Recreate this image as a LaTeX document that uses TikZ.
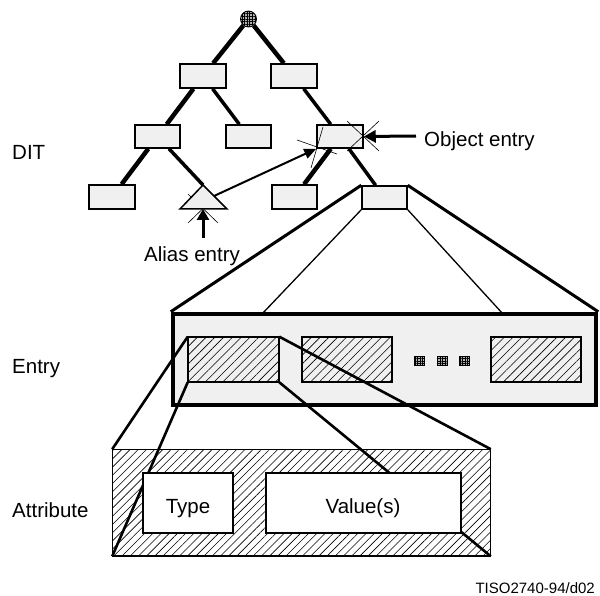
\documentclass[tikz,border=0pt]{standalone}
\usepackage{fontspec}
\setmainfont{Liberation Sans}
\usetikzlibrary{arrows.meta,patterns.meta,backgrounds}
\definecolor{boxgray}{RGB}{240,240,240}
\begin{document}
\begin{tikzpicture}[x=1pt,y=-1pt,
  treebox/.style={draw, line width=1.5pt, fill=boxgray, minimum width=46pt, minimum height=24pt, inner sep=0pt},
  hatchbox/.style={draw, line width=1.5pt, preaction={fill=boxgray}, pattern={Lines[angle=45,distance=6.2pt,line width=0.6pt]}, inner sep=0pt, minimum height=45pt},
  whitebox/.style={draw, line width=1.5pt, fill=white, inner sep=0pt, minimum height=60pt},
  txt/.style={inner sep=0pt, font=\fontsize{20.5}{24}\selectfont},
  thickedge/.style={line width=4.5pt},
  medge/.style={line width=3.5pt},
  dotsq/.style={draw, line width=0.8pt, fill=gray!60, postaction={pattern={Hatch[angle=0,distance=2.5pt,line width=0.4pt]}}, minimum width=10pt, minimum height=9pt, inner sep=0pt},
  xmark/.style={line width=0.6pt},
  frustum/.style={line width=2.6pt},
  arrowline/.style={line width=3pt, -{Triangle[length=12pt,width=12pt]}}
]
\useasboundingbox (0,0) rectangle (600,596);

% ---- DIT tree ----
\node[circle, draw, line width=0.8pt, fill=gray!60, postaction={pattern={Hatch[angle=0,distance=2.6pt,line width=0.4pt]}}, minimum size=16pt, inner sep=0pt] (root) at (248.5,19) {};
\node[treebox] (b1L) at (203,76) {};
\node[treebox] (b1R) at (294,76) {};
\node[treebox, minimum width=45pt, minimum height=23pt] (b2L) at (157.5,136.5) {};
\node[treebox, minimum width=45pt, minimum height=23pt] (b2M) at (248.5,136.5) {};
\node[treebox, minimum width=46pt, minimum height=23pt] (b2R) at (340,136.5) {};
\node[treebox] (b3L) at (112,197) {};
\node[treebox, minimum width=45pt] (b3M) at (294.5,197) {};
\node[treebox, minimum width=45pt, minimum height=23pt] (b3R) at (384.5,197.5) {};
\coordinate (triTop) at (203,185);
\coordinate (triL) at (180,209);
\coordinate (triR) at (227,209);
\coordinate (triBot) at (203,209);
\coordinate (triSide) at (214,196);
\draw[line width=1.5pt, fill=boxgray, line join=miter] (triTop) -- (triR) -- (triL) -- cycle;

\begin{pgfonlayer}{background}
  \draw[thickedge] (root) -- (b1L);
  \draw[thickedge] (root) -- (b1R);
  \draw[thickedge] (b1L) -- (b2L);
  \draw[medge] (b1L) -- (b2M);
  \draw[medge] (b1R) -- (b2R);
  \draw[thickedge] (b2L) -- (b3L);
  \draw[medge] (b2L) -- (triTop);
  \draw[thickedge] (b2R) -- (b3M);
  \draw[medge] (b2R) -- (b3R);
  \draw[xmark] (218,223) -- (188,194);
  \draw[xmark] (188,223) -- (218,194);
\end{pgfonlayer}

% ---- labels and arrows in the tree ----
\node[txt, anchor=base west] (dit) at (12,160) {DIT};
\node[txt, anchor=base west] (objlbl) at (424,147) {Object entry};
\node[txt, anchor=base west] (aliaslbl) at (144,261.5) {Alias entry};
\coordinate (objStart) at (416,136);
\coordinate (aliasStart) at (203,238);
\draw[arrowline] (objStart) -- (b2R.east);
\draw[line width=2pt, -{Triangle[length=12pt,width=10pt]}] (triSide) -- (b2R.south west);
\draw[line width=3pt, -{Triangle[length=11pt,width=12pt]}] (aliasStart) -- (triBot);
\draw[xmark] (347,121) -- (379,151);
\draw[xmark] (379,121) -- (347,151);
\draw[xmark] (297,140) -- (337,154);
\draw[xmark] (323,127) -- (311,168);

% ---- Entry ----
\node[draw, line width=4.5pt, fill=boxgray, minimum width=423pt, minimum height=91pt, inner sep=0pt] (entrybox) at (384.5,359.5) {};
\node[txt, anchor=base west] (entrylbl) at (12,373) {Entry};
\coordinate (eTopA) at (262,314);
\coordinate (eTopB) at (503,314);
\draw[line width=3pt] (b3R.north west) -- (entrybox.north west);
\draw[line width=3pt] (b3R.north east) -- (entrybox.north east);
\draw[line width=1.3pt] (b3R.south west) -- (eTopA);
\draw[line width=1.3pt] (b3R.south east) -- (eTopB);

\node[hatchbox, minimum width=91pt] (h1) at (233.5,359.5) {};
\node[hatchbox, minimum width=90pt] (h2) at (347,359.5) {};
\node[hatchbox, minimum width=90pt] (h3) at (536,359.5) {};
\node[dotsq] (d1) at (419,360.5) {};
\node[dotsq] (d2) at (442,360.5) {};
\node[dotsq] (d3) at (464.5,360.5) {};

% ---- Attribute ----
\node[draw, line width=1.5pt, pattern={Lines[angle=45,distance=5.8pt,line width=0.6pt]}, minimum width=378pt, minimum height=106.5pt, inner sep=0pt] (attr) at (301.5,502.75) {};
\node[txt, anchor=base west] (attrlbl) at (12,517) {Attribute};
\draw[frustum] (h1.north west) -- (attr.north west);
\draw[frustum] (h1.south west) -- (attr.south west);
\draw[frustum] (h1.north east) -- (attr.north east);
\draw[frustum] (h1.south east) -- (attr.south east);
\node[whitebox, minimum width=90pt] (typebox) at (188,503) {};
\node[whitebox, minimum width=195pt] (valbox) at (363.5,503) {};
\node[txt, anchor=base] (typetxt) at (188,513) {Type};
\node[txt, anchor=base] (valtxt) at (363,513) {Value(s)};

\node[inner sep=0pt, anchor=base east, font=\fontsize{15}{18}\selectfont] (fig) at (595,593) {TISO2740-94/d02};
\end{tikzpicture}
\end{document}
